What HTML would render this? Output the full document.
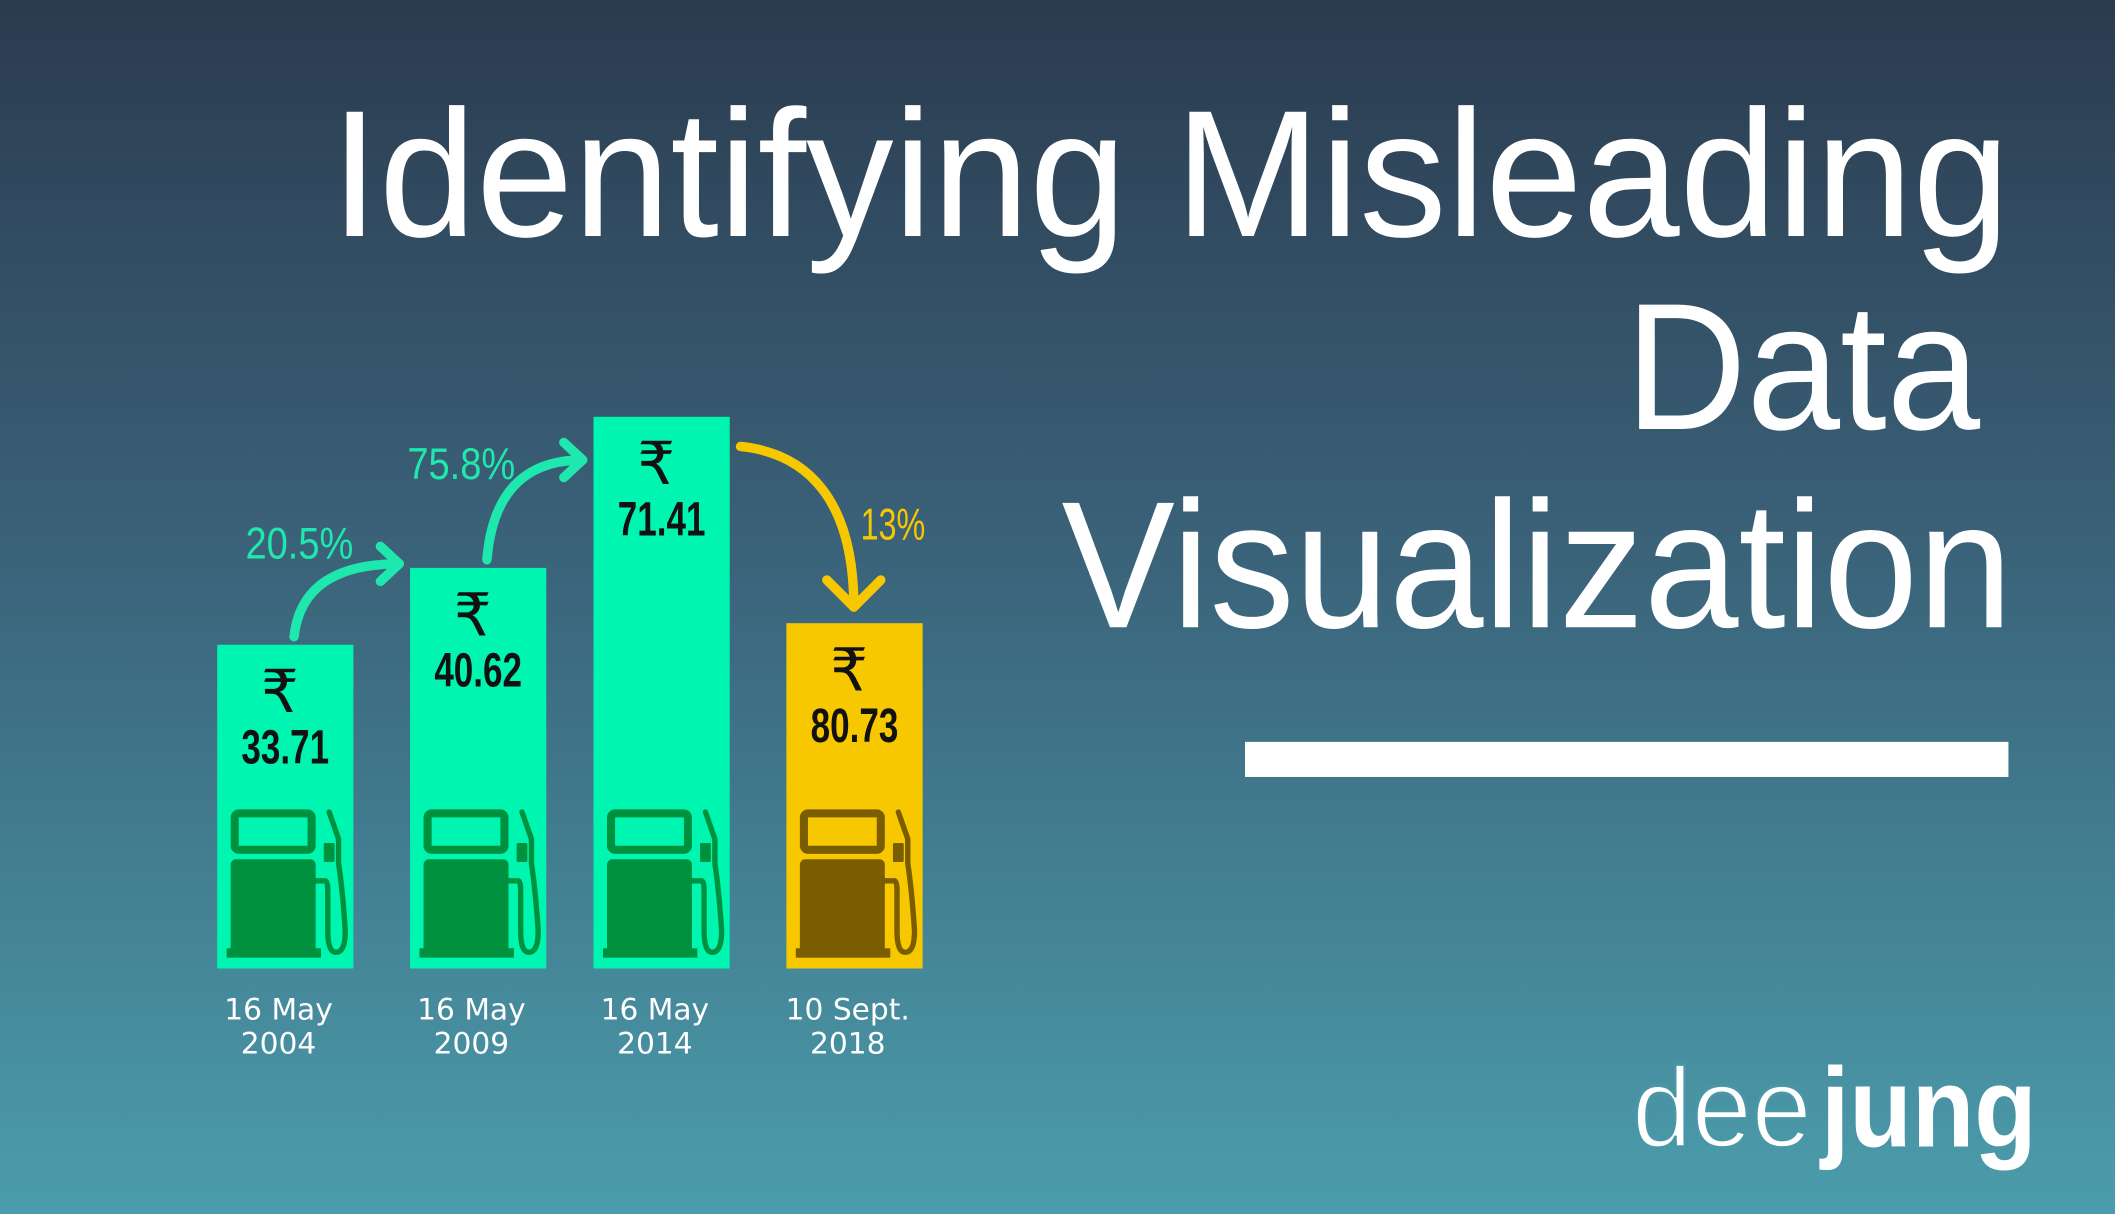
<!DOCTYPE html>
<html><head><meta charset="utf-8"><style>
html,body{margin:0;padding:0;width:2115px;height:1214px;overflow:hidden}
svg{display:block}
</style></head><body>
<svg id="root" width="2115" height="1214" viewBox="0 0 1568 900" preserveAspectRatio="none" xmlns="http://www.w3.org/2000/svg">
<defs>
<linearGradient id="bg" x1="0" y1="0" x2="0" y2="1">
<stop offset="0" stop-color="#2b3b4f"/>
<stop offset="0.45" stop-color="#3a6279"/>
<stop offset="1" stop-color="#4b9dac"/>
</linearGradient>
</defs>
<rect width="1568" height="900" fill="url(#bg)"/>
<g font-family="Liberation Sans, sans-serif" fill="#fff" font-size="134">
<text x="245" y="175" textLength="1245" lengthAdjust="spacingAndGlyphs">Identifying Misleading</text>
<text x="1205" y="318" textLength="263" lengthAdjust="spacingAndGlyphs">Data</text>
<text x="787" y="465" textLength="705" lengthAdjust="spacingAndGlyphs">Visualization</text>
</g>
<rect x="923" y="550" width="566" height="26" fill="#fff"/>
<g fill="#fff" font-family="Liberation Sans, sans-serif" font-size="84">
<text x="1210" y="850" textLength="133" lengthAdjust="spacingAndGlyphs" font-weight="normal" stroke="#4a97a8" stroke-width="2">dee</text>
<text x="1350" y="850" textLength="160" lengthAdjust="spacingAndGlyphs" font-weight="bold">jung</text>
</g>
<g id="chart"></g>
</svg>
<script>
const categories1 = ["16 May", "16 May", "16 May", "10 Sept."];
const categories2 = ["2004", "2009", "2014", "2018"];
const prices = [33.71, 40.62, 71.41, 80.73];
const displayedLevels = [24.0, 29.7, 40.9, 25.6];
const changeLabels = ["20.5%", "75.8%", "13%"];
const barColors = ["#00f5b1", "#00f5b1", "#00f5b1", "#f7c800"];
const pumpColors = ["#00913f", "#00913f", "#00913f", "#7a5d00"];

const NS = "http://www.w3.org/2000/svg";
const chart = document.getElementById("chart");
const baseY = 718, barW = 101;
const xPos = i => [161, 304, 440, 583][i];
const yScale = v => baseY - v * 10;
function mk(tag, attrs, parent) {
  const e = document.createElementNS(NS, tag);
  for (const k in attrs) e.setAttribute(k, attrs[k]);
  (parent || chart).appendChild(e);
  return e;
}
const narrow = "Liberation Sans Narrow, Liberation Sans, sans-serif";
prices.forEach((p, i) => {
  const x0 = xPos(i), top = yScale(displayedLevels[i]);
  const g = mk("g", {});
  
  
  const r = mk("rect", { x: x0, y: top, width: barW, height: baseY - top, fill: barColors[i] }, g);
  
  
  const rs = mk("text", { x: x0 + barW / 2 - 4, y: top + 50, "text-anchor": "middle", "font-family": "DejaVu Sans, sans-serif", "font-size": "44", fill: "#111" }, g);
  rs.textContent = "₹";
  
  
  const txt = p.toFixed(2);
  const vw = txt.length * 13;
  const vt = mk("text", { x: x0 + barW / 2 - vw / 2, y: top + 88, "font-family": narrow, "font-weight": "bold", "font-size": "36", fill: "#111", textLength: vw, lengthAdjust: "spacingAndGlyphs" }, g);
  vt.textContent = txt;
  
  
  const pc = pumpColors[i];
  const pg = mk("g", { fill: pc, stroke: "none" }, g);
  
  
  mk("rect", { x: x0 + 13, y: 603, width: 57, height: 27, rx: 3, fill: "none", stroke: pc, "stroke-width": 6 }, pg);
  mk("rect", { x: x0 + 10, y: 637, width: 63, height: 70, rx: 4 }, pg);
  mk("rect", { x: x0 + 7, y: 703, width: 70, height: 7 }, pg);
  mk("path", { d: `M${x0+73} 653 L${x0+80} 653 Q${x0+82} 653 ${x0+82} 660 L${x0+82} 690 Q${x0+82} 706 ${x0+88} 706 Q${x0+95} 706 ${x0+95} 690 Q${x0+93} 660 ${x0+90} 640 L${x0+90} 622 L${x0+83} 602`, fill: "none", stroke: pc, "stroke-width": 4, "stroke-linecap": "round" }, pg);
  mk("rect", { x: x0 + 79, y: 625, width: 8, height: 14, rx: 1 }, pg);
  const l1 = mk("text", { x: x0 + barW / 2 - 5, y: 756, "text-anchor": "middle", "font-family": "DejaVu Sans, sans-serif", "font-size": "22", fill: "#fff" }, g);
  l1.textContent = categories1[i];
  
  
  const l2 = mk("text", { x: x0 + barW / 2 - 5, y: 781, "text-anchor": "middle", "font-family": "DejaVu Sans, sans-serif", "font-size": "22", fill: "#fff" }, g);
  l2.textContent = categories2[i];
  
  
});
changeLabels.forEach((lab, i) => {
  const a = xPos(i), b = xPos(i + 1);
  const t0 = yScale(displayedLevels[i]), t1 = yScale(displayedLevels[i + 1]);
  const up = displayedLevels[i + 1] > displayedLevels[i];
  const col = up ? "#1ee8ad" : "#f7c800";
  const g = mk("g", { fill: "none", stroke: col, "stroke-width": 7, "stroke-linecap": "round", "stroke-linejoin": "round" });
  
  
  let tx, ty;
  if (up) {
    const sx = a + 57, sy = t0 - 6, ex = b - 8;
    const eY = sy - 54 - (i === 1 ? 20 : 0);
    mk("path", { d: `M${sx} ${sy} Q${sx+6} ${eY} ${ex} ${eY}` }, g);
    mk("path", { d: `M${ex-14} ${eY-13} L${ex} ${eY} L${ex-14} ${eY+13}` }, g);
    if (i === 1) { tx = a + 38; ty = eY + 14; } else { tx = a + 61; ty = eY - 4; }
  } else {
    const sx = a + barW + 8, sy = t0 + 22, ex = b + 50, ey = t1 - 12;
    mk("path", { d: `M${sx} ${sy} C${sx+50} ${sy+5} ${ex} ${sy+40} ${ex} ${ey}` }, g);
    mk("path", { d: `M${ex-20} ${ey-20} L${ex} ${ey} L${ex+20} ${ey-20}` }, g);
    tx = b + 79; ty = t1 - 62;
  }
  const lw = lab.length * 16;
  const t = mk("text", { x: tx - lw / 2, y: ty, "font-family": narrow, "font-size": "33", fill: col, textLength: lw, lengthAdjust: "spacingAndGlyphs" });
  t.textContent = lab;
  
  
});
</script>
</body></html>
